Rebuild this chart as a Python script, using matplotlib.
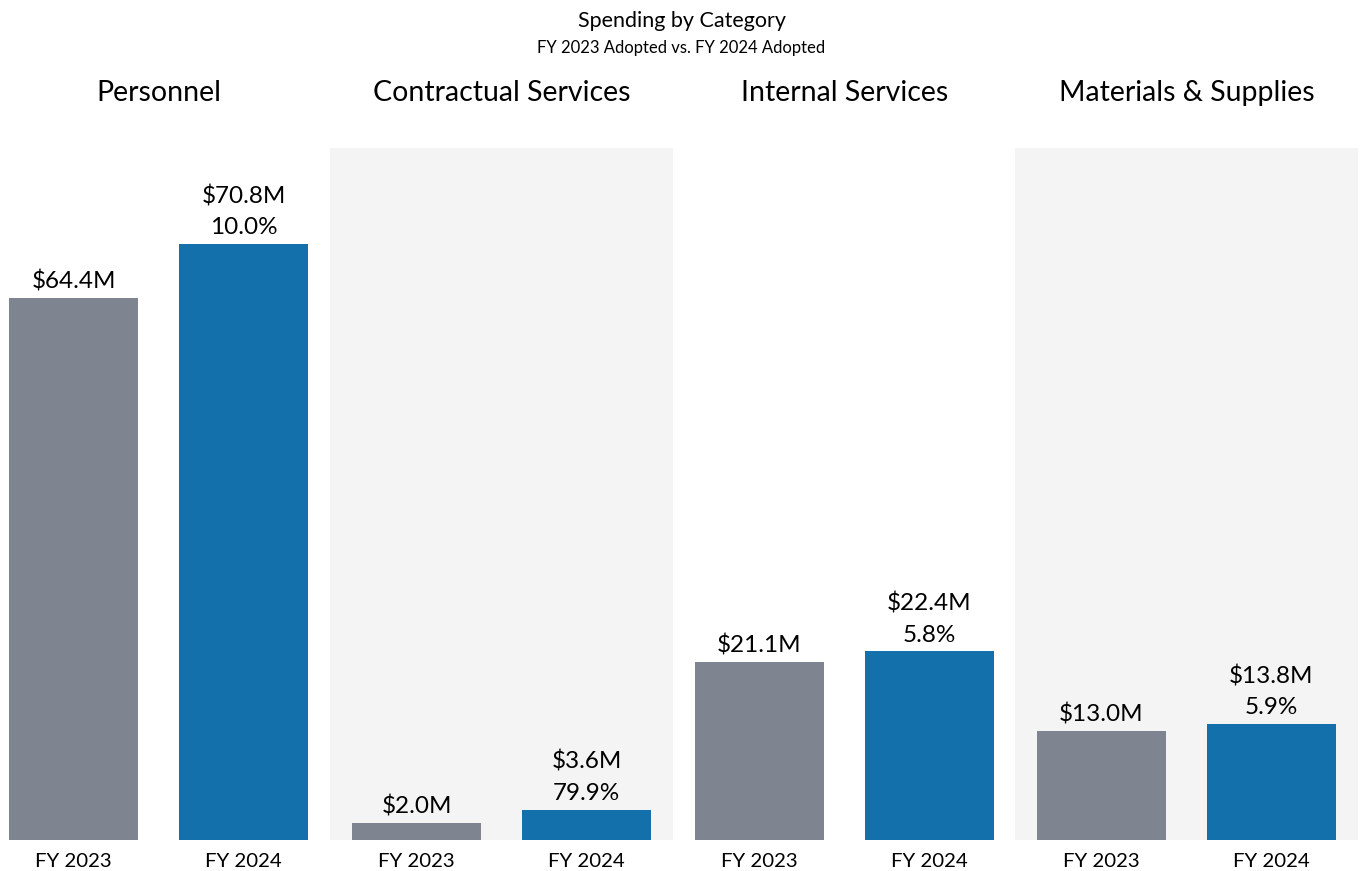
import matplotlib.pyplot as plt

plt.rcParams['font.family'] = ['Lato', 'DejaVu Sans']

categories = ['Personnel', 'Contractual Services', 'Internal Services', 'Materials & Supplies']
years = ['FY 2023', 'FY 2024']
fy2023 = [64.4, 2.0, 21.1, 13.0]
fy2024 = [70.8, 3.6, 22.4, 13.8]
pct_change = ['10.0%', '79.9%', '5.8%', '5.9%']

gray = '#7f8590'
blue = '#1470ab'
shade = '#f4f4f4'

fig = plt.figure(figsize=(13.63, 8.71), dpi=100)

W, H = 1363, 871
panel_w = 343
lefts = [-13, 330, 673, 1015]
bottom = (H - 840) / H
height = 692 / H

for i, cat in enumerate(categories):
    ax = fig.add_axes([lefts[i] / W, bottom, panel_w / W, height])
    ax.set_facecolor(shade if i % 2 == 1 else 'white')
    vals = [fy2023[i], fy2024[i]]
    ax.bar([0, 1], vals, width=0.76, color=[gray, blue])
    ax.set_xlim(-0.509, 1.509)
    ax.set_ylim(0, 82.2)
    for s in ax.spines.values():
        s.set_visible(False)
    ax.set_yticks([])
    ax.set_xticks([0, 1])
    ax.set_xticklabels(years, fontsize=14.7)
    ax.tick_params(axis='x', length=0, pad=9)
    ax.annotate(f'${vals[0]:.1f}M', (0, vals[0]), xytext=(0, 4),
                textcoords='offset points', ha='center', va='bottom', fontsize=17.5)
    ax.annotate(f'${vals[1]:.1f}M\n{pct_change[i]}', (1, vals[1]), xytext=(0, 4),
                textcoords='offset points', ha='center', va='bottom', fontsize=17.5,
                linespacing=1.6)
    fig.text((lefts[i] + panel_w / 2) / W, 1 - 93 / H, cat, ha='center', va='center',
             fontsize=20.5)

fig.text(0.5, 1 - 21 / H, 'Spending by Category', ha='center', va='center', fontsize=15.5)
fig.text(0.5, 1 - 48 / H, 'FY 2023 Adopted vs. FY 2024 Adopted', ha='center', va='center',
         fontsize=12)

fig.savefig('out.png', dpi=100)
